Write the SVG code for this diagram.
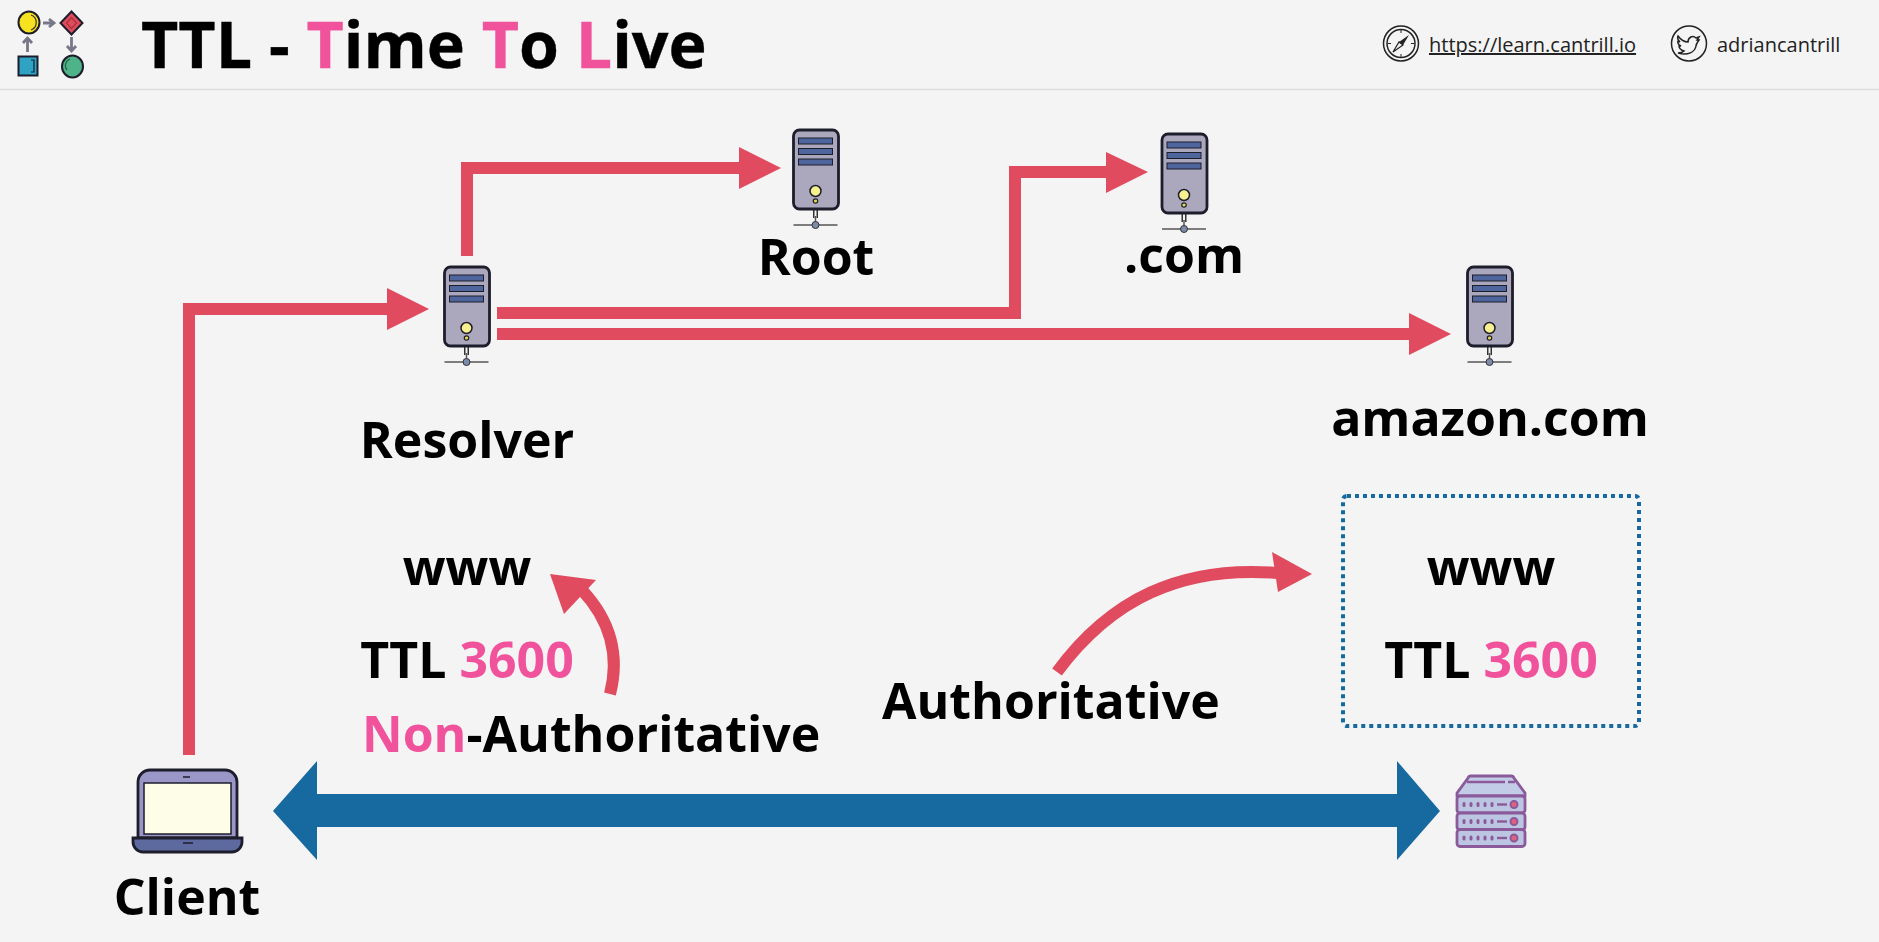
<svg xmlns="http://www.w3.org/2000/svg" width="1879" height="942" viewBox="0 0 1879 942">
<style>
.t{font-family:"Open Sans","Liberation Sans",sans-serif;font-weight:700;font-size:50px;fill:#000}
.m{text-anchor:middle}
.p{fill:#f0529c}
.h{font-family:"Open Sans","Liberation Sans",sans-serif;font-size:20px;fill:#222}
.red{fill:none;stroke:#e04b5f;stroke-width:12}
.rh{fill:#e04b5f}
.ol{stroke:#1d1d2b;stroke-width:2}
</style>
<defs>
<g id="srv">
<path d="M0 79V88" stroke="#333" stroke-width="5"/><path d="M0 79V88" stroke="#f4f4f4" stroke-width="2"/>
<path d="M0 86V95M-22 95H22" stroke="#555" stroke-width="1.500" fill="none"/>
<circle cy="95" r="3.500" fill="#7d8bab" stroke="#333" stroke-width="1"/>
<rect x="-22" y="0" width="45" height="79" rx="6" fill="#aba8bd" stroke="#1d1d2b" stroke-width="2.800"/>
<rect x="-17" y="8" width="34" height="6" fill="#4f659e" stroke="#1d1d2b"/>
<rect x="-17" y="18.500" width="34" height="6" fill="#4f659e" stroke="#1d1d2b"/>
<rect x="-17" y="29" width="34" height="6" fill="#4f659e" stroke="#1d1d2b"/>
<circle cy="61" r="5.500" fill="#f6f08e" stroke="#1d1d2b" stroke-width="1.500"/>
<circle cy="71" r="2.200" fill="#e8d84e" stroke="#1d1d2b" stroke-width="1.200"/>
</g>
<g id="row">
<rect x="1457" y="0" width="68" height="17" rx="3" fill="#bcc6e2" stroke="#8a5a9a" stroke-width="2.800"/>
<path d="M1464 7.500v2M1471 7.500v2M1478 7.500v2M1485 7.500v2M1492 7.500v2" stroke="#8a5a9a" stroke-width="3" stroke-linecap="round"/>
<path d="M1497 8.500h10" stroke="#8a5a9a" stroke-width="2.400"/>
<circle cx="1514" cy="8.500" r="3.500" fill="#e0607f" stroke="#8a5a9a" stroke-width="2"/>
</g>
</defs>
<rect width="1879" height="942" fill="#f4f4f4"/>
<path d="M0 89.500H1879" stroke="#ddd" stroke-width="1.500"/>

<g id="logo">
<ellipse cx="29" cy="22.500" rx="10.500" ry="11" fill="#f6e21f" class="ol"/>
<path d="M31 15a8 8 0 0 1 0 15" fill="none" stroke="#333" stroke-width="1.200"/>
<path d="M71.500 11.500L82.500 23L71.500 34.500L60.500 23Z" fill="#e04b5f" class="ol"/>
<path d="M66.500 23L71.500 17.500L76.500 23L71.500 28.500Z" fill="none" stroke="#a33" stroke-width="1.200"/>
<rect x="18.500" y="56.500" width="19" height="19" fill="#2ea3c4" class="ol"/>
<path d="M31 60h3v12h-3" fill="none" stroke="#123" stroke-width="1.200"/>
<ellipse cx="72.500" cy="66.500" rx="10.500" ry="11" fill="#4fb38a" class="ol"/>
<path d="M67 70a7 7 0 0 1 3-11" fill="none" stroke="#264" stroke-width="1.200"/>
<path d="M43 23h9M49 19l5 4l-5 4" fill="none" stroke="#778" stroke-width="2.800"/>
<path d="M27.500 52v-13M23 43l4.500-5l4.500 5" fill="none" stroke="#778" stroke-width="2.800"/>
<path d="M71.500 37v13M67 46l4.500 5l4.500-5" fill="none" stroke="#778" stroke-width="2.800"/>
</g>
<text class="t" x="141" y="68" style="font-size:64.500px" stroke="#000" stroke-width=".4">TTL - <tspan class="p" stroke="#f0529c">T</tspan>ime <tspan class="p" stroke="#f0529c">T</tspan>o <tspan class="p" stroke="#f0529c">L</tspan>ive</text>

<g id="links">
<g fill="none" stroke="#222" stroke-width="1.500">
<circle cx="1401" cy="43.500" r="17.500"/><circle cx="1401" cy="43.500" r="14"/>
<circle cx="1689" cy="43.500" r="17.500"/>
<path d="M1401 30v3M1401 54v3M1388 43.500h3M1411 43.500h3" stroke-width="1"/>
</g>
<path d="M1409 35L1403 45L1399 42Z" fill="#222"/>
<path d="M1393 52L1399 42L1403 45Z" fill="none" stroke="#222" stroke-width="1.200"/>
<path d="M1678 36c3 4 6 6 10 6c0-5 5-7 8-4l3-1l-2 3l2 0c-2 3-3 4-3 6c-1 6-8 10-18 7c3 0 5-1 6-2c-3-1-5-3-5-5l2 0c-2-1-4-3-3-5l2 1c-2-2-3-4-2-6z" fill="none" stroke="#222" stroke-width="1.500"/>
<text class="h" x="1429" y="52" text-decoration="underline">https://learn.cantrill.io</text>
<text class="h" x="1717" y="52">adriancantrill</text>
</g>

<g id="connectors">
<path class="red" d="M467 256V168H740"/><path class="rh" d="M739 147L781 168L739 189Z"/>
<path class="red" d="M497 313H1015V172H1107"/><path class="rh" d="M1106 152L1148 172L1106 193Z"/>
<path class="red" d="M497 334H1410"/><path class="rh" d="M1409 313L1451 334L1409 355Z"/>
<path class="red" d="M189 755V309H388"/><path class="rh" d="M387 288L429 309L387 330Z"/>
<path d="M273 811L317 761V794H1397V761L1440 811L1397 860V827H317V860Z" fill="#166a9f"/>
<path class="red" d="M610 694C620 655 610 620 582 590"/><path class="rh" d="M550 574L596 580L564 614Z"/>
<path class="red" d="M1057 672C1110 600 1180 565 1278 573"/><path class="rh" d="M1312 574L1272 552L1278 592Z"/>
</g>

<g id="resolver"><use href="#srv" x="466.500" y="267"/><text class="t m" x="467" y="458">Resolver</text></g>
<g id="root"><use href="#srv" x="815.500" y="130"/><text class="t m" x="816" y="275">Root</text></g>
<g id="com"><use href="#srv" x="1184" y="134"/><text class="t m" x="1184" y="273">.com</text></g>
<g id="amazon"><use href="#srv" x="1489.500" y="267"/><text class="t m" x="1490" y="436">amazon.com</text></g>

<g id="client">
<path d="M138 838V782a12 12 0 0 1 12-12H225a12 12 0 0 1 12 12V838Z" fill="#9a96c8" stroke="#1d1d2b" stroke-width="2.800"/>
<rect x="144" y="783" width="87" height="51" fill="#fdfde8" stroke="#1d1d2b" stroke-width="1.500"/>
<path d="M133 838H242V842a10 10 0 0 1-10 10H143a10 10 0 0 1-10-10Z" fill="#5c6aa0" stroke="#1d1d2b" stroke-width="2.800"/>
<path d="M183 777h7M183 843h10" stroke="#1d1d2b" stroke-width="1.500"/>
<text class="t m" x="187" y="915">Client</text>
</g>

<g id="rack">
<path d="M1457 793L1468 778a3 3 0 0 1 3-2H1511a3 3 0 0 1 3 2L1525 793V796H1457Z" fill="#c2cce6" stroke="#8a5a9a" stroke-width="2.800"/>
<path d="M1467 782h38M1508 782h7" stroke="#8a5a9a" stroke-width="2.400"/>
<use href="#row" y="796"/><use href="#row" y="813"/><use href="#row" y="829.500"/>
</g>

<g id="cache-resolver">
<text class="t m" x="467" y="585">www</text>
<text class="t m" x="467" y="678">TTL <tspan class="p">3600</tspan></text>
<text class="t" x="362" y="752"><tspan class="p">Non</tspan>-Authoritative</text>
</g>
<g id="cache-authoritative">
<rect x="1343" y="496" width="296" height="230" rx="4" fill="none" stroke="#166a9f" stroke-width="4" stroke-dasharray="4 4"/>
<text class="t m" x="1491" y="585">www</text>
<text class="t m" x="1491" y="678">TTL <tspan class="p">3600</tspan></text>
<text class="t" x="882" y="719">Authoritative</text>
</g>
</svg>
